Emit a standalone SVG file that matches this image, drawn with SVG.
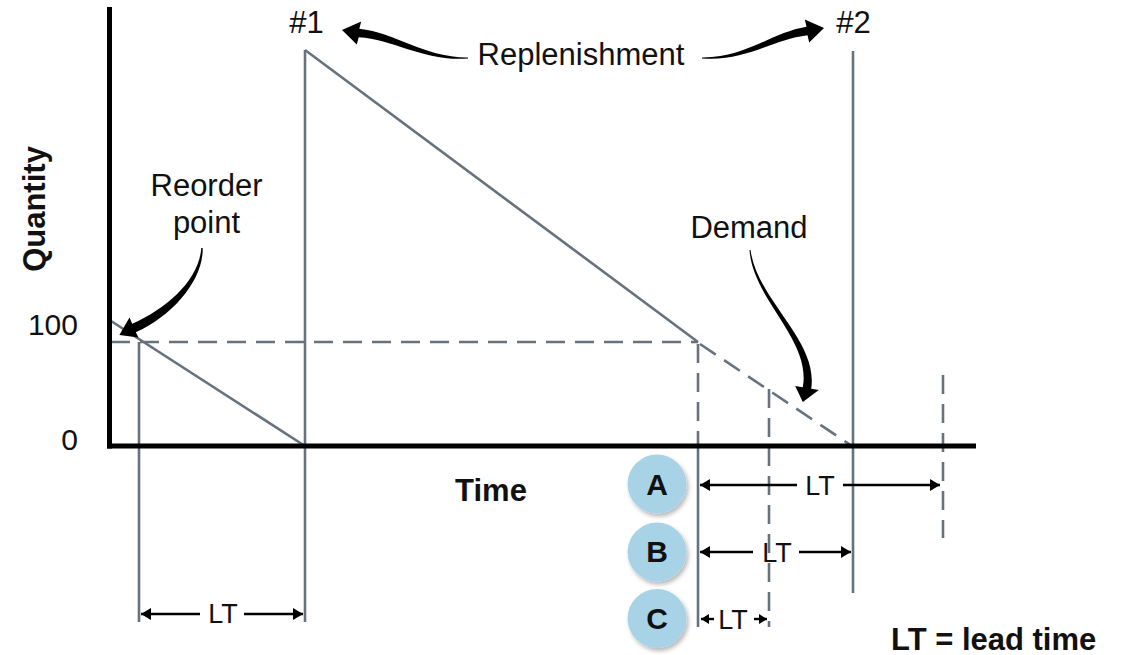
<svg xmlns="http://www.w3.org/2000/svg" width="1122" height="655" viewBox="0 0 1122 655">
  <style>
    .axis { stroke: #000; stroke-width: 5; fill: none; }
    .stock { stroke: #66727d; stroke-width: 2.6; fill: none; }
    .dash { stroke: #66727d; stroke-width: 2.6; fill: none; stroke-dasharray: 19 10; }
    .lt { stroke: #000; stroke-width: 2.4; fill: none; }
    .curve { fill: #000; stroke: none; }
    .lbl { font-family: "Liberation Sans", Arial, sans-serif; font-size: 31px; fill: #111; }
    .num { font-size: 30px; }
    .ltl { font-family: "Liberation Sans", Arial, sans-serif; font-size: 27px; fill: #111; text-anchor: middle; }
    .bold { font-weight: bold; }
    .badge { fill: #a8d3e7; filter: url(#shadow); }
    .badge-t { font-family: "Liberation Sans", Arial, sans-serif; font-size: 30px; font-weight: bold; fill: #111; text-anchor: middle; }
  </style>
  <defs>
    <marker id="lt-head" viewBox="0 0 10 12" refX="10" refY="6" markerWidth="10" markerHeight="12" orient="auto-start-reverse" markerUnits="userSpaceOnUse">
      <path d="M0,0 L10,6 L0,12 Z" fill="#000"/>
    </marker>
    <marker id="lt-head-s" viewBox="0 0 8 10" refX="8" refY="5" markerWidth="8" markerHeight="10" orient="auto-start-reverse" markerUnits="userSpaceOnUse">
      <path d="M0,0 L8,5 L0,10 Z" fill="#000"/>
    </marker>
    <filter id="shadow" x="-30%" y="-30%" width="170%" height="170%">
      <feDropShadow dx="2" dy="3" stdDeviation="2.2" flood-color="#000" flood-opacity="0.28"/>
    </filter>
  </defs>

  <!-- stock level over time -->
  <g id="stock-lines">
    <line class="dash" x1="111" y1="342" x2="698" y2="342"/>
    <polyline class="stock" points="111,321 305,446"/>
    <line class="stock" x1="139" y1="342" x2="139" y2="622"/>
    <line class="stock" x1="305" y1="50" x2="305" y2="622"/>
    <polyline class="stock" points="305,50 698,342"/>
    <line class="dash" x1="700" y1="344" x2="852" y2="446"/>
    <line class="dash" x1="698" y1="344" x2="698" y2="446"/>
    <line class="stock" x1="698" y1="446" x2="698" y2="627"/>
    <line class="dash" x1="769" y1="389" x2="769" y2="627"/>
    <line class="stock" x1="853" y1="51" x2="853" y2="593"/>
    <line class="dash" x1="943" y1="375" x2="943" y2="538"/>
  </g>

  <!-- axes -->
  <g id="axes">
    <line class="axis" x1="109.5" y1="7" x2="109.5" y2="448.5"/>
    <line class="axis" x1="107" y1="446" x2="976" y2="446"/>
  </g>

  <g id="axis-labels">
    <text class="lbl num" x="78" y="335" text-anchor="end">100</text>
    <text class="lbl num" x="78" y="450" text-anchor="end">0</text>
    <text class="lbl bold" transform="translate(45 209) rotate(-90)" text-anchor="middle">Quantity</text>
    <text class="lbl bold" x="491" y="501" text-anchor="middle">Time</text>
  </g>

  <g id="annotations">
    <text class="lbl" x="206.5" y="196" text-anchor="middle">Reorder</text>
    <text class="lbl" x="206.5" y="233" text-anchor="middle">point</text>
    <text class="lbl" x="306.5" y="33" text-anchor="middle">#1</text>
    <text class="lbl" x="853.5" y="33" text-anchor="middle">#2</text>
    <text class="lbl" x="581" y="65" text-anchor="middle">Replenishment</text>
    <text class="lbl" x="749" y="238" text-anchor="middle">Demand</text>
    <text class="lbl bold" x="891" y="650">LT = lead time</text>
  </g>

  <g id="badge-a">
    <circle class="badge" cx="657" cy="484" r="29.5"/>
    <text class="badge-t" x="657" y="494.5">A</text>
  </g>
  <g id="badge-b">
    <circle class="badge" cx="657" cy="552" r="29.5"/>
    <text class="badge-t" x="657" y="562">B</text>
  </g>
  <g id="badge-c">
    <circle class="badge" cx="657" cy="618.5" r="29.5"/>
    <text class="badge-t" x="657" y="628.5">C</text>
  </g>

  <!-- connectors: callout arrows and lead-time spans -->
  <g id="connectors">
    <!-- Reorder point callout -->
    <path class="curve" d="M201.3,248 C199,280 167.5,308 132.2,323.8 L129.5,317.5 L119.4,335 L138.5,337.5 L135.8,332.2 C172.5,316 203.5,280 202.7,248 Z"/>
    <!-- Replenishment callouts -->
    <path class="curve" d="M468,57.5 C425,58 395.3,32.5 359.3,28.8 L361.2,21.5 L342,30 L356.8,44.5 L358.7,37.2 C394.7,39.5 425,62 468,58.5 Z"/>
    <path class="curve" d="M702,58.5 C745,62 772.4,39.5 807.5,35.2 L809.2,42.5 L824,28 L804.8,19.5 L806.5,26.8 C771.6,32.5 745,58 702,57.5 Z"/>
    <!-- Demand callout -->
    <path class="curve" d="M749.5,250 C753,300 811.5,339.6 802.8,387.3 L795.2,386 L802.8,402 L818.8,390 L811.2,388.7 C818.5,340.4 757,300 750.5,250 Z"/>

    <!-- lead time, first cycle -->
    <line class="lt" x1="200" y1="614" x2="141" y2="614" marker-end="url(#lt-head)"/>
    <line class="lt" x1="244" y1="614" x2="303" y2="614" marker-end="url(#lt-head)"/>
    <text class="ltl" x="223" y="623">LT</text>

    <!-- lead time A -->
    <line class="lt" x1="797" y1="485" x2="700" y2="485" marker-end="url(#lt-head)"/>
    <line class="lt" x1="843" y1="485" x2="940" y2="485" marker-end="url(#lt-head)"/>
    <text class="ltl" x="820" y="495">LT</text>

    <!-- lead time B -->
    <line class="lt" x1="753" y1="552" x2="700" y2="552" marker-end="url(#lt-head)"/>
    <line class="lt" x1="799" y1="552" x2="851" y2="552" marker-end="url(#lt-head)"/>
    <text class="ltl" x="777" y="562">LT</text>

    <!-- lead time C -->
    <line class="lt" x1="714" y1="619" x2="701" y2="619" marker-end="url(#lt-head-s)"/>
    <line class="lt" x1="754" y1="619" x2="767" y2="619" marker-end="url(#lt-head-s)"/>
    <text class="ltl" x="733" y="629">LT</text>
  </g>
</svg>
